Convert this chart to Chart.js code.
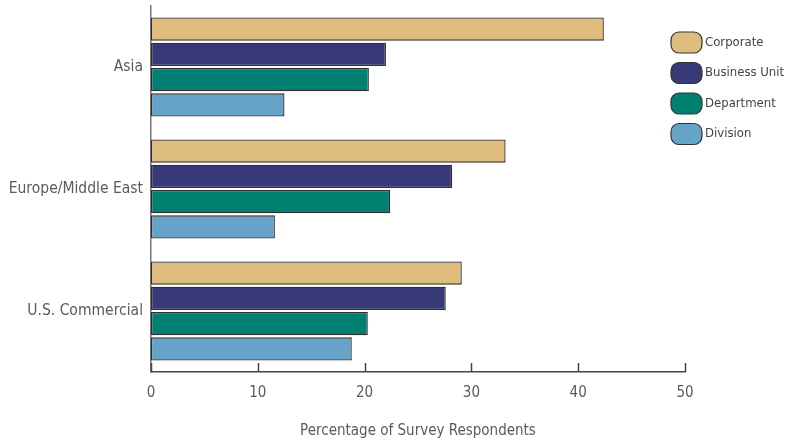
<!DOCTYPE html>
<html>
<head>
<meta charset="utf-8">
<script src="https://cdn.jsdelivr.net/npm/chart.js@4/dist/chart.umd.min.js"></script>
<style>
  html, body { margin: 0; padding: 0; background: #fff; }
  #wrap { width: 786px; height: 444px; position: relative; }
</style>
</head>
<body>
<div id="wrap"><canvas id="chart"></canvas></div>
<script>
// dados do gráfico
const regions = ['Asia', 'Europe/Middle East', 'U.S. Commercial'];
const seriesNames = ['Corporate', 'Business Unit', 'Department', 'Division'];
const corporate = [42.4, 33.2, 29.1];
const businessUnit = [22.0, 28.2, 27.6];
const department = [20.4, 22.4, 20.3];
const division = [12.5, 11.6, 18.8];
const xTicks = [0, 10, 20, 30, 40, 50];
const seriesColors = ['#DEBC7E', '#383A78', '#008070', '#65A3C8'];

const fontFamily = "'Liberation Sans Narrow', 'DejaVu Sans Condensed', sans-serif";
const textColor = '#5a5a5a';

// marcas do eixo x para dentro (para cima)
const tickMarks = {
    id: 'tickMarks',
    afterDraw(chart) {
        const ctx = chart.ctx;
        const x = chart.scales.x;
        const y0 = chart.chartArea.bottom;
        ctx.save();
        ctx.strokeStyle = '#444';
        ctx.lineWidth = 1.5;
        xTicks.forEach(v => {
            const px = Math.round(x.getPixelForValue(v)) + 0.5;
            ctx.beginPath();
            ctx.moveTo(px, y0);
            ctx.lineTo(px, y0 - 9);
            ctx.stroke();
        });
        ctx.restore();
    }
};

// legenda desenhada à direita
const sideLegend = {
    id: 'sideLegend',
    afterDraw(chart) {
        const ctx = chart.ctx;
        ctx.save();
        chart.data.datasets.forEach((ds, i) => {
            const bx = 671, by = 32 + i * 30.5, bw = 31, bh = 21;
            ctx.beginPath();
            ctx.roundRect(bx, by, bw, bh, 8);
            ctx.fillStyle = ds.backgroundColor;
            ctx.fill();
            ctx.lineWidth = 1.2;
            ctx.strokeStyle = '#333';
            ctx.stroke();
            ctx.fillStyle = '#444';
            ctx.font = '13px ' + fontFamily;
            ctx.textBaseline = 'middle';
            ctx.textAlign = 'left';
            ctx.fillText(ds.label, bx + bw + 3, by + bh / 2);
        });
        ctx.restore();
    }
};

const seriesData = [corporate, businessUnit, department, division];

new Chart(document.getElementById('chart'), {
    type: 'bar',
    data: {
        labels: regions,
        datasets: seriesNames.map((name, i) => ({
            label: name,
            data: seriesData[i],
            backgroundColor: seriesColors[i],
            borderColor: '#2e2e2e',
            borderWidth: 1.3,
            borderSkipped: false,
            barPercentage: 0.92,
            categoryPercentage: 0.83
        }))
    },
    options: {
        indexAxis: 'y',
        responsive: true,
        maintainAspectRatio: false,
        animation: false,
        layout: { padding: { top: 6, right: 101, left: 0, bottom: 0 } },
        plugins: {
            legend: { display: false },
            tooltip: { enabled: false }
        },
        scales: {
            x: {
                min: 0,
                max: 50,
                afterBuildTicks: scale => { scale.ticks = xTicks.map(v => ({ value: v })); },
                afterFit: scale => { scale.height = 72; },
                grid: { display: false, drawTicks: false },
                border: { display: true, color: '#444', width: 1.5 },
                ticks: {
                    color: textColor,
                    padding: 12,
                    font: { family: fontFamily, size: 15 }
                },
                title: {
                    display: true,
                    text: 'Percentage of Survey Respondents',
                    color: textColor,
                    padding: { top: 16 },
                    font: { family: fontFamily, size: 15 }
                }
            },
            y: {
                afterFit: scale => {
                    scale.width = 151;
                    scale.paddingTop = 0;
                    scale.paddingBottom = 0;
                },
                grid: { display: false, drawTicks: false },
                border: { display: true, color: '#777', width: 1.5 },
                ticks: {
                    color: textColor,
                    padding: 8,
                    font: { family: fontFamily, size: 15.5 }
                }
            }
        }
    },
    plugins: [tickMarks, sideLegend]
});
</script>
</body>
</html>
